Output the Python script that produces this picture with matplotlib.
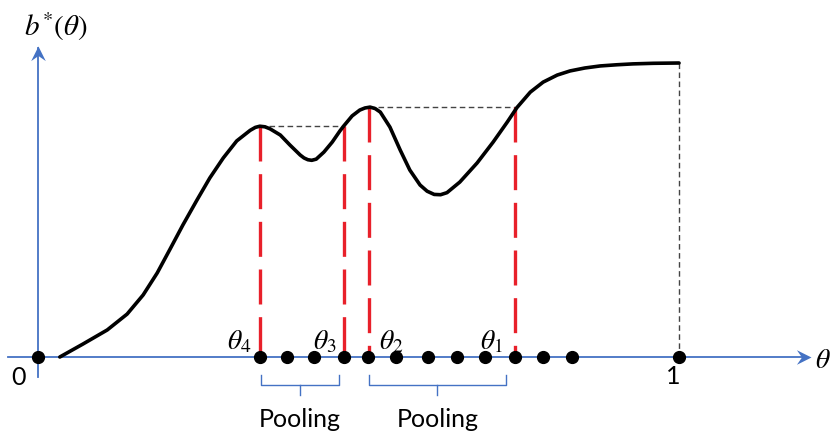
import matplotlib.pyplot as plt
from matplotlib.path import Path

plt.rcParams['mathtext.fontset'] = 'stix'

# ── Data ───────────────────────────────────────────────────
# b*(theta) curve (theta in [0,1], plateau = 1)
theta = [0.034, 0.070, 0.108, 0.139, 0.164, 0.186, 0.206, 0.226, 0.248,
         0.268, 0.289, 0.310, 0.331, 0.339, 0.346, 0.354, 0.362, 0.378,
         0.393, 0.409, 0.415, 0.421, 0.427, 0.434, 0.446, 0.459, 0.471,
         0.477, 0.490, 0.502, 0.510, 0.518, 0.526, 0.534, 0.549, 0.565,
         0.580, 0.596, 0.607, 0.618, 0.628, 0.638, 0.658, 0.685, 0.710,
         0.732, 0.747, 0.768, 0.788, 0.810, 0.830, 0.853, 0.877, 0.903,
         0.928, 0.960, 1.000]
b_star = [0.000, 0.044, 0.092, 0.146, 0.211, 0.286, 0.367, 0.449, 0.534,
          0.609, 0.677, 0.735, 0.771, 0.781, 0.785, 0.783, 0.776, 0.755,
          0.721, 0.687, 0.677, 0.671, 0.669, 0.673, 0.697, 0.731, 0.769,
          0.786, 0.820, 0.840, 0.847, 0.850, 0.845, 0.833, 0.782, 0.704,
          0.636, 0.585, 0.564, 0.553, 0.552, 0.559, 0.595, 0.660, 0.731,
          0.799, 0.848, 0.901, 0.935, 0.959, 0.973, 0.983, 0.990, 0.994,
          0.997, 0.999, 1.000]

# grid points on the theta axis
grid = [0.0, 0.346, 0.388, 0.431, 0.477, 0.515, 0.558, 0.608, 0.654,
        0.697, 0.744, 0.788, 0.833, 1.0]

# thresholds theta_4 .. theta_1 and their curve values
thr_names = [r'$\theta_4$', r'$\theta_3$', r'$\theta_2$', r'$\theta_1$']
thr_theta = [0.346, 0.477, 0.516, 0.744]
thr_b = [0.785, 0.785, 0.849, 0.849]

# pooling groups (start, end)
pools = [(0.348, 0.470), (0.516, 0.730)]

BLUE = '#4472C4'
RED = '#E8202A'
GUIDE = '#444444'

# stealth-style arrow heads (tip at the origin)
head_right = Path([(0, 0), (-1, 0.5), (-0.65, 0), (-1, -0.5), (0, 0)],
                  [Path.MOVETO, Path.LINETO, Path.LINETO, Path.LINETO, Path.CLOSEPOLY])
head_up = Path([(0, 0), (0.5, -1), (0, -0.65), (-0.5, -1), (0, 0)],
               [Path.MOVETO, Path.LINETO, Path.LINETO, Path.LINETO, Path.CLOSEPOLY])

fig = plt.figure(figsize=(8.33, 4.38), dpi=100)
ax = fig.add_axes([0, 0, 1, 1])
ax.set_xlim(-0.0593, 1.2402)
ax.set_ylim(-0.2755, 1.2143)
ax.axis('off')

# ── Axes with arrows ───────────────────────────────────────
ax.plot([-0.047, 1.200], [0, 0], color=BLUE, lw=1.3, zorder=1)
ax.plot([1.206], [0], marker=head_right, ms=21, color=BLUE, mew=0, zorder=1)
ax.plot([0, 0], [-0.068, 1.05], color=BLUE, lw=1.3, zorder=1)
ax.plot([0], [1.058], marker=head_up, ms=21, color=BLUE, mew=0, zorder=1)

# ── Curve ──────────────────────────────────────────────────
ax.plot(theta, b_star, color='black', lw=2.6, solid_capstyle='round',
        solid_joinstyle='round', zorder=3)

# dashed guides
ax.plot([thr_theta[0], thr_theta[1]], [thr_b[0], thr_b[1]], color=GUIDE,
        lw=1.0, dashes=(4, 2.5), zorder=2)
ax.plot([thr_theta[2], thr_theta[3]], [thr_b[2], thr_b[3]], color=GUIDE,
        lw=1.0, dashes=(4, 2.5), zorder=2)
ax.plot([1.0, 1.0], [b_star[-1], 0], color=GUIDE, lw=1.0,
        dashes=(4, 2.5), zorder=2)

for t, bv in zip(thr_theta, thr_b):
    ax.plot([t, t], [bv, 0], color=RED, lw=2.4, dashes=(10.5, 3.8), zorder=2)

ax.plot(grid, [0] * len(grid), 'o', color='black', ms=8.5, zorder=4)

# ── Pooling braces ─────────────────────────────────────────
for x0, x1 in pools:
    xm = (x0 + x1) / 2
    ax.plot([x0, x0, x1, x1], [-0.061, -0.095, -0.095, -0.061], color=BLUE,
            lw=1.0, solid_joinstyle='round')
    ax.plot([xm, xm], [-0.095, -0.129], color=BLUE, lw=1.0)
    ax.text(xm, -0.214, 'Pooling', fontsize=18, family='Lato',
            ha='center', va='center')

# ── Labels ─────────────────────────────────────────────────
label_pos = [(0.314, 0.054), (0.448, 0.054), (0.551, 0.054), (0.707, 0.054)]
for name, (tx, ty) in zip(thr_names, label_pos):
    ax.text(tx, ty, name, fontsize=20, ha='center', va='center')

ax.text(0.027, 1.122, r'$b^{*}(\theta)$', fontsize=21, ha='center', va='center')
ax.text(1.225, -0.01, r'$\theta$', fontsize=20, ha='center', va='center')
ax.text(-0.030, -0.071, '0', fontsize=18, family='Lato', ha='center', va='center')
ax.text(0.991, -0.065, '1', fontsize=18, family='Lato', ha='center', va='center')

fig.savefig('out.png', dpi=100)
